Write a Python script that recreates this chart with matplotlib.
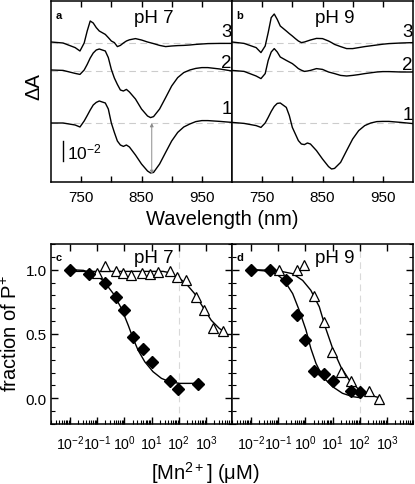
import matplotlib
matplotlib.use("Agg")
import matplotlib.pyplot as plt
from matplotlib.ticker import LogLocator, MultipleLocator, NullFormatter

plt.rcParams["font.family"] = ["Liberation Sans", "DejaVu Sans"]
plt.rcParams["mathtext.fontset"] = "custom"
plt.rcParams["mathtext.rm"] = "Liberation Sans"
plt.rcParams["mathtext.it"] = "Liberation Sans:italic"
plt.rcParams["mathtext.bf"] = "Liberation Sans:bold"

# ---- spectra (mOD relative to each trace's own baseline) ----
wl = [700, 720, 740, 748, 755, 760, 765, 770, 775, 780, 790, 795, 800, 805, 810,
      815, 820, 825, 830, 840, 850, 860, 865, 870, 880, 890, 900, 910, 920, 930,
      940, 950, 960, 980, 1000]

a1 = [0, 0, -1, -2, 1, 3.7, 6.5, 9, 10.3, 11, 10, 7, 0, -4.7, -9,
      -11, -11.7, -11, -12, -16, -20.5, -24, -25, -24.7, -20.5, -14.7, -9, -4.7, -2, -0.5,
      0.7, 1.2, 1.2, 0.8, 0.3]
a2 = [0.5, 0.3, -1.2, -1.7, 0.5, 3.3, 6.5, 9, 10.5, 11, 10, 6.7, 0.8, -3.5, -6.7,
      -9.5, -10, -9.2, -10.5, -14, -19, -22.5, -23.3, -22.8, -19, -13.3, -7.5, -3.3, -0.8, 0.5,
      1.3, 1.7, 1.7, 1.0, 0]
a3 = [0.5, 0, -2.3, -4, 0, 6, 11, 10, 7.7, 6, 4.3, 2.7, 1, 0.2, -1.8,
      -1.2, 0, 1, 1.6, 2.2, 1.5, 0.5, 0.1, -0.3, -1.2, -1.8, -1.5, -1.3, -1.2, -1,
      -0.7, -0.5, -0.3, -0.2, -0.2]

b1 = [0.3, -0.2, -1.3, -2.2, 0, 2.8, 5.8, 8.3, 9.8, 10, 7.8, 3.7, -2.2, -5.5, -8.8,
      -10.5, -10.8, -10, -10.5, -13.8, -18, -21.8, -23, -22.7, -19.7, -13.8, -8, -3.8, -1.3, 0,
      0.7, 0.8, 0.8, 0.3, -0.3]
b2 = [0.3, -0.2, -2.5, -3.8, -1.3, 5.3, 9.5, 11.2, 9.5, 7, 5.3, 4.5, 3.7, 2.5, 1.2,
      0.4, -0.2, 0, 0.3, 1.2, 0.8, -0.5, -0.9, -1.3, -2.2, -2.5, -2.2, -1.8, -1.3, -0.9,
      -0.5, -0.3, -0.3, -0.5, -0.5]
b3 = [0.5, -0.2, -2.3, -4.8, -1.5, 5.2, 12.7, 14.5, 11.8, 8.5, 6, 4.7, 3.5, 2.2, 1,
      0.2, 0.5, 1, 1.5, 2.3, 2.2, 1, 0.2, -0.7, -1.8, -2.8, -2.8, -2.3, -1.8, -1.4,
      -1, -0.6, -0.3, 0, 0.2]

offsets = [0, 26, 40]

# ---- titration data: fraction of P+ vs [Mn2+] (uM) ----
c_dia_x = [0.01, 0.05, 0.2, 0.5, 1, 2, 5, 10, 48, 97, 490]
c_dia_y = [1.0, 0.97, 0.895, 0.79, 0.685, 0.478, 0.38, 0.284, 0.134, 0.075, 0.109]
c_tri_x = [0.095, 0.19, 0.47, 0.89, 1.7, 4.6, 8.5, 17, 46, 87, 178, 417, 832, 1780, 4170]
c_tri_y = [0.974, 1.028, 0.987, 0.977, 0.961, 0.974, 0.964, 0.982, 0.987, 0.943,
           0.917, 0.788, 0.685, 0.543, 0.522]
c_fit1_x = [0.01, 0.031, 0.071, 0.166, 0.39, 0.78, 1.38, 2.09, 3.16, 5.6, 11.2, 22.9,
            45.7, 107, 437]
c_fit1_y = [1.0, 0.995, 0.969, 0.917, 0.814, 0.698, 0.568, 0.465, 0.375, 0.284, 0.207,
            0.155, 0.129, 0.116, 0.116]
c_fit2_x = [0.01, 1.0, 26.3, 45.7, 93, 186, 380, 759, 1550, 3090, 4790]
c_fit2_y = [0.987, 0.987, 0.987, 0.977, 0.943, 0.891, 0.814, 0.711, 0.607, 0.543, 0.517]

d_dia_x = [0.01, 0.051, 0.2, 0.48, 1, 2, 4.9, 10, 49, 100]
d_dia_y = [0.998, 0.998, 0.92, 0.646, 0.455, 0.213, 0.186, 0.135, 0.055, 0.046]
d_tri_x = [0.105, 0.48, 0.91, 2.1, 4.7, 9.3, 20, 47, 210, 510]
d_tri_y = [1.0, 1.0, 1.034, 0.798, 0.597, 0.357, 0.204, 0.137, 0.059, -0.005]
d_fit1_x = [0.01, 0.035, 0.083, 0.166, 0.34, 0.59, 1.05, 1.58, 2.45, 4.27, 10, 22.9,
            53.7, 100]
d_fit1_y = [1.0, 0.99, 0.969, 0.917, 0.814, 0.685, 0.53, 0.388, 0.271, 0.168, 0.09,
            0.039, 0.013, 0.005]
d_fit2_x = [0.01, 0.035, 0.11, 0.34, 0.79, 1.58, 3.24, 5.6, 10, 20, 40.7, 95.5, 219, 513]
d_fit2_y = [1.0, 0.997, 0.99, 0.969, 0.917, 0.84, 0.711, 0.543, 0.388, 0.245, 0.142,
            0.065, 0.026, 0.005]

log_ticks = [1e-2, 1e-1, 1e0, 1e1, 1e2, 1e3]
log_labels = [r"$10^{-2}$", r"$10^{-1}$", r"$10^{0}$", r"$10^{1}$", r"$10^{2}$", r"$10^{3}$"]

W, H = 415, 485
fig = plt.figure(figsize=(W / 100, H / 100), dpi=100)


def px_axes(x0, y0, x1, y1):
    return fig.add_axes([x0 / W, 1 - y1 / H, (x1 - x0) / W, (y1 - y0) / H])


def style_spines(ax):
    for s in ax.spines.values():
        s.set_linewidth(1.1)


def spectra_panel(ax, traces, letter, title, num_y):
    for off in offsets:
        ax.axhline(off, color="0.8", lw=0.8, ls=(0, (6, 4)), zorder=1)
    for tr, off in zip(traces, offsets):
        ax.plot(wl, [v + off for v in tr], color="black", lw=1.0, zorder=3)
    ax.set_xlim(700, 1000)
    ax.set_ylim(-29.5, 61)
    ax.set_yticks([])
    ax.set_xticks([750, 800, 850, 900, 950])
    ax.set_xticklabels(["750", "", "850", "", "950"])
    ax.tick_params(axis="x", direction="in", top=True, bottom=True, length=4,
                   width=1.0, labelsize=11, pad=6)
    ax.text(0.025, 0.925, letter, transform=ax.transAxes, fontsize=8,
            fontweight="bold", va="center", ha="left")
    ax.text(0.57, 0.91, title, transform=ax.transAxes, fontsize=13.5,
            va="center", ha="center")
    for lab, yy in zip(["1", "2", "3"], num_y):
        ax.text(991, yy, lab, fontsize=13.5, ha="center", va="center")
    style_spines(ax)


ax_a = px_axes(51, 2, 232, 183)
ax_b = px_axes(232, 2, 413, 183)
spectra_panel(ax_a, [a1, a2, a3], "a", "pH 7", [7.5, 30, 45.7])
spectra_panel(ax_b, [b1, b2, b3], "b", "pH 9", [4.5, 29.5, 45.7])

# scale bar and arrow in panel a
ax_a.plot([720, 720], [-9, -19], color="black", lw=1.0)
ax_a.text(727, -14, r"$10^{-2}$", fontsize=12.5, va="center", ha="left")
ax_a.annotate("", xy=(867, -25.5), xytext=(867, 0),
              arrowprops=dict(arrowstyle="<|-|>", color="0.55", lw=0.7,
                              mutation_scale=5, shrinkA=0, shrinkB=0))


def titration_panel(ax, dia, tri, fit1, fit2, letter, title, left_labels):
    ax.axvline(100, color="0.85", lw=0.8, ls=(0, (6, 4)), zorder=1)
    ax.plot(fit1[0], fit1[1], color="black", lw=1.0, zorder=2)
    ax.plot(fit2[0], fit2[1], color="black", lw=1.0, zorder=2)
    ax.plot(tri[0], tri[1], ls="none", marker="^", ms=7, mfc="white",
            mec="black", mew=0.9, zorder=3)
    ax.plot(dia[0], dia[1], ls="none", marker="D", ms=6.5, color="black", zorder=4)
    ax.set_xscale("log")
    ax.set_xlim(2e-3, 9e3)
    ax.set_ylim(-0.2, 1.2)
    ax.set_xticks(log_ticks)
    ax.set_xticklabels(log_labels)
    ax.xaxis.set_minor_locator(LogLocator(base=10, subs=range(2, 10), numticks=20))
    ax.xaxis.set_minor_formatter(NullFormatter())
    ax.set_yticks([0.0, 0.5, 1.0])
    ax.set_yticklabels(["0.0", "0.5", "1.0"] if left_labels else ["", "", ""])
    ax.yaxis.set_minor_locator(MultipleLocator(0.1))
    ax.tick_params(axis="x", which="major", direction="in", top=True, bottom=True,
                   length=5, width=1.0, labelsize=10.2, pad=7)
    ax.tick_params(axis="x", which="minor", direction="in", top=False, bottom=True,
                   length=3, width=0.8)
    ax.tick_params(axis="y", which="major", direction="in", left=True, right=True,
                   length=5, width=1.0, labelsize=11, pad=3)
    ax.tick_params(axis="y", which="minor", direction="in", left=True, right=True,
                   length=3, width=0.8)
    ax.text(0.025, 0.93, letter, transform=ax.transAxes, fontsize=8,
            fontweight="bold", va="center", ha="left")
    ax.text(0.57, 0.925, title, transform=ax.transAxes, fontsize=13.5,
            va="center", ha="center")
    style_spines(ax)


ax_c = px_axes(51, 245, 232, 425)
ax_d = px_axes(232, 245, 413, 425)
titration_panel(ax_c, (c_dia_x, c_dia_y), (c_tri_x, c_tri_y), (c_fit1_x, c_fit1_y),
                (c_fit2_x, c_fit2_y), "c", "pH 7", True)
titration_panel(ax_d, (d_dia_x, d_dia_y), (d_tri_x, d_tri_y), (d_fit1_x, d_fit1_y),
                (d_fit2_x, d_fit2_y), "d", "pH 9", False)

fig.text(34 / W, 1 - 87 / H, "ΔA", rotation=90, fontsize=14.5, ha="center", va="center")
fig.text(222 / W, 1 - 220 / H, "Wavelength (nm)", fontsize=14.5, ha="center", va="center")
fig.text(11 / W, 1 - 333 / H, r"fraction of P$^{+}$", rotation=90, fontsize=14.5,
         ha="center", va="center")
fig.text(205 / W, 1 - 473 / H, r"[Mn$^{2+}$] (μM)", fontsize=14.5, ha="center", va="center")

fig.savefig("out.png", dpi=100)
